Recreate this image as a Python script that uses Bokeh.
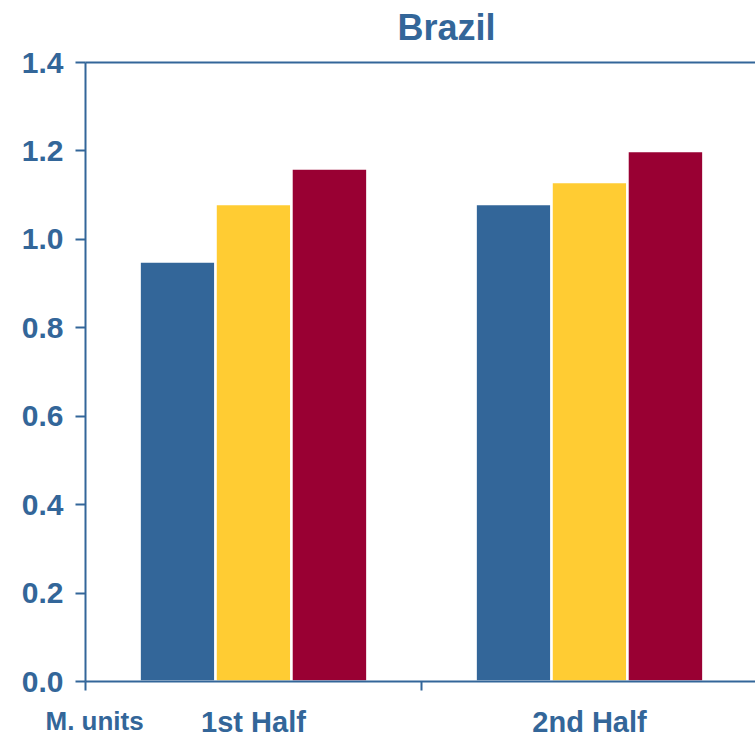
from bokeh.plotting import figure
from bokeh.models import (Range1d, FixedTicker, PrintfTickFormatter, Label, LinearAxis,
                          ColumnDataSource)
from bokeh.embed import file_html
from bokeh.resources import INLINE

# Data
title_text = "Brazil"
unit_text = "M. units"
periods = ["1st Half", "2nd Half"]
series_blue = [0.95, 1.08]
series_yellow = [1.08, 1.13]
series_red = [1.16, 1.20]
y_ticks = [0.0, 0.2, 0.4, 0.6, 0.8, 1.0, 1.2, 1.4]

BLUE = "#336699"
YELLOW = "#FFCC33"
RED = "#990033"
TEXT = "#336699"
FONT = "Liberation Sans"

W, H = 755, 737
# plotting area inside the canvas (pixels)
AX_LEFT, AX_TOP, AX_BOTTOM = 85, 62, 681
Y_MIN, Y_MAX = 0.0, 1.4
CAT_PX = 336  # pixel width of one category slot

px_per_y = (AX_BOTTOM - AX_TOP) / (Y_MAX - Y_MIN)
x_lo = -AX_LEFT / CAT_PX
x_hi = (W - AX_LEFT) / CAT_PX
y_lo = Y_MIN - (H - AX_BOTTOM) / px_per_y
y_hi = Y_MAX + AX_TOP / px_per_y

bar_w = 0.226
group_centers = [i + 0.5 for i in range(len(periods))]
group_edges = [float(i) for i in range(len(periods) + 1)]

p = figure(
    width=W, height=H,
    x_range=Range1d(x_lo, x_hi), y_range=Range1d(y_lo, y_hi),
    output_backend="svg", toolbar_location=None,
    min_border=0,
)
p.outline_line_color = None
p.xgrid.visible = False
p.ygrid.visible = False
p.background_fill_color = "white"
p.border_fill_color = "white"

for offset, vals, color in [(-bar_w, series_blue, BLUE), (0.0, series_yellow, YELLOW), (bar_w, series_red, RED)]:
    src = ColumnDataSource(dict(x=[c + offset for c in group_centers], top=vals))
    p.vbar(x="x", top="top", bottom=Y_MIN, width=bar_w, source=src,
           fill_color=color, line_color="white", line_width=2.5)

# y axis, pinned at x = 0
ya = p.yaxis[0]
ya.fixed_location = 0
ya.bounds = (Y_MIN, Y_MAX)
ya.ticker = FixedTicker(ticks=y_ticks, minor_ticks=[])
ya.formatter = PrintfTickFormatter(format="%.1f")
ya.axis_line_color = BLUE
ya.axis_line_width = 2
ya.major_tick_line_color = BLUE
ya.major_tick_line_width = 2
ya.major_tick_out = 10
ya.major_tick_in = 0
ya.minor_tick_line_color = None
ya.major_label_text_font = FONT
ya.major_label_text_font_style = "bold"
ya.major_label_text_font_size = "30px"
ya.major_label_text_color = TEXT
ya.major_label_standoff = 12

# x axis, pinned at y = 0: labels at group centers, dividers at category edges
xa = p.xaxis[0]
xa.fixed_location = Y_MIN
xa.bounds = (0, x_hi)
xa.ticker = FixedTicker(ticks=group_centers, minor_ticks=group_edges)
xa.major_label_overrides = {c: name for c, name in zip(group_centers, periods)}
xa.axis_line_color = BLUE
xa.axis_line_width = 2
xa.major_tick_line_color = None
xa.major_tick_out = 0
xa.major_tick_in = 0
xa.minor_tick_line_color = BLUE
xa.minor_tick_line_width = 2
xa.minor_tick_out = 9
xa.minor_tick_in = 0
xa.major_label_text_font = FONT
xa.major_label_text_font_style = "bold"
xa.major_label_text_font_size = "29px"
xa.major_label_text_color = TEXT
xa.major_label_standoff = 15

# top border line at the upper limit of the value scale
top_axis = LinearAxis(fixed_location=Y_MAX, bounds=(0, x_hi),
                      ticker=FixedTicker(ticks=[], minor_ticks=[]),
                      axis_line_color=BLUE, axis_line_width=2,
                      major_tick_line_color=None, minor_tick_line_color=None,
                      major_label_text_font_size="0px")
p.add_layout(top_axis, "above")

# title and unit note
p.add_layout(Label(x=(446 - AX_LEFT) / CAT_PX, y=Y_MAX + 35 / px_per_y, text=title_text,
                   text_align="center", text_baseline="alphabetic",
                   text_font=FONT, text_font_style="bold", text_font_size="36px", text_color=TEXT))
p.add_layout(Label(x=x_lo + 45 / CAT_PX, y=Y_MIN - 39 / px_per_y, text=unit_text,
                   text_align="left", text_baseline="alphabetic",
                   text_font=FONT, text_font_style="bold", text_font_size="26px", text_color=TEXT))

open("out.html", "w").write(file_html(p, INLINE))
